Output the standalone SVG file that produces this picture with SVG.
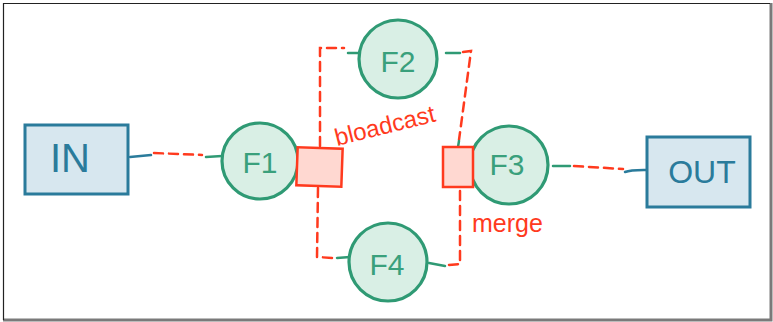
<svg xmlns="http://www.w3.org/2000/svg" width="773" height="322" viewBox="0 0 773 322">
<style>
.box{fill:#d7e7ef;stroke:#2a7b9b;stroke-width:3}
.circ{fill:#d9efe5;stroke:#2f9a74;stroke-width:3.2}
.sq{fill:#ffd8d1;stroke:#ff3a1e;stroke-width:2.5}
.bt{font-family:"Liberation Sans",Arial,sans-serif;fill:#2a7b9b;text-anchor:middle;dominant-baseline:central}
.gt{font-family:"Liberation Sans",Arial,sans-serif;fill:#3aa07c;text-anchor:middle;dominant-baseline:central;font-size:30px}
.rt{font-family:"Liberation Sans",Arial,sans-serif;fill:#ff3a1e}
.rd{fill:none;stroke:#ff3a1e;stroke-width:2.5;stroke-dasharray:9 6;stroke-linecap:round}
.gl{fill:none;stroke:#2f9a74;stroke-width:2.5;stroke-linecap:round}
.bl{fill:none;stroke:#2a7b9b;stroke-width:2.5;stroke-linecap:round}
</style>
<rect x="0" y="0" width="773" height="322" fill="#ffffff"/>
<path d="M771 3 L771 320 L3 320" fill="none" stroke="#7a7a7a" stroke-width="3"/>
<path d="M3.5 320 L3.5 3.5 L770 3.5" fill="none" stroke="#222" stroke-width="1.2"/>
<g id="connectors">
<path class="bl" d="M130 157 L151 155"/>
<path class="rd" d="M154 153 L202 155"/>
<path class="gl" d="M206 157 L222 156"/>
<path class="rd" d="M320 146 L320 48 L344 48"/>
<path class="gl" d="M348 53 L359 53"/>
<path class="gl" d="M446 53 L460 53"/>
<path class="rd" d="M463 52 L471 51 L459 140"/>
<path class="gl" d="M459 141 L458 147"/>
<path class="rd" d="M318 188 L317 257 L333 258"/>
<path class="gl" d="M337 258 L350 257"/>
<path class="gl" d="M429 263 L445 266"/>
<path class="rd" d="M449 265 L460 264 L460 188"/>
<path class="gl" d="M553 166 L570 166"/>
<path class="rd" d="M574 166 L623 169"/>
<path class="bl" d="M625 172 C632 169 645 170 653 170"/>
</g>
<g id="in">
<rect class="box" x="25" y="125" width="103" height="69"/>
<text class="bt" x="70" y="158" font-size="40">IN</text>
</g>
<g id="f1">
<circle class="circ" cx="260" cy="161" r="38"/>
<text class="gt" x="260" y="162">F1</text>
</g>
<g id="broadcast">
<rect class="sq" x="297" y="148" width="45" height="38" transform="rotate(2 319 167)"/>
<text class="rt" x="337" y="146" font-size="24" transform="rotate(-14 337 146)">bloadcast</text>
</g>
<g id="f2">
<circle class="circ" cx="398" cy="59" r="39"/>
<text class="gt" x="398" y="61">F2</text>
</g>
<g id="f4">
<circle class="circ" cx="388" cy="262" r="39"/>
<text class="gt" x="387" y="264">F4</text>
</g>
<g id="f3">
<circle class="circ" cx="509" cy="165" r="39"/>
<text class="gt" x="507" y="164">F3</text>
</g>
<g id="merge">
<rect class="sq" x="443" y="147" width="30" height="40"/>
<text class="rt" x="472" y="232" font-size="25">merge</text>
</g>
<g id="out">
<rect class="box" x="647" y="137" width="103" height="70"/>
<text class="bt" x="702" y="172" font-size="32">OUT</text>
</g>
</svg>
